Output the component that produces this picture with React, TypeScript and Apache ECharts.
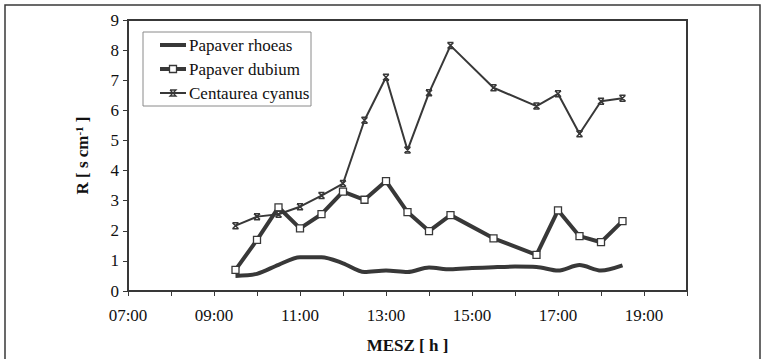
import React, { useEffect, useRef } from "react";
import * as echarts from "echarts";

const rhoeasHours = [9.5, 10, 10.5, 11, 11.5, 12, 12.5, 13, 13.5, 14, 14.5, 15, 15.5, 16, 16.5, 17, 17.5, 18, 18.5];
const rhoeasValues = [0.5, 0.57, 0.87, 1.12, 1.12, 0.92, 0.63, 0.68, 0.63, 0.78, 0.72, 0.76, 0.79, 0.81, 0.8, 0.68, 0.86, 0.68, 0.85];
const otherHours = [9.5, 10, 10.5, 11, 11.5, 12, 12.5, 13, 13.5, 14, 14.5, 15.5, 16.5, 17, 17.5, 18, 18.5];
const dubiumValues = [0.7, 1.7, 2.78, 2.08, 2.55, 3.3, 3.03, 3.65, 2.62, 1.99, 2.52, 1.75, 1.2, 2.68, 1.82, 1.62, 2.32];
const cyanusValues = [2.17, 2.47, 2.55, 2.8, 3.17, 3.57, 5.67, 7.1, 4.68, 6.58, 8.15, 6.75, 6.14, 6.55, 5.22, 6.3, 6.4];
const seriesNames = ["Papaver rhoeas", "Papaver dubium", "Centaurea cyanus"];

const FONT = "'Times New Roman', 'Liberation Serif', 'DejaVu Serif', serif";
const INK = "#383838";
const TXT = "#111";

const zip = (xs: number[], ys: number[]) => xs.map((x, i) => [x, ys[i]]);

function legendGraphic() {
  const x0 = 143, y0 = 32, w = 168, h = 74;
  const rows = [45, 69, 93];
  const items: any[] = [
    { type: "rect", shape: { x: x0, y: y0, width: w, height: h }, style: { fill: "#fff", stroke: "#8a8a8a", lineWidth: 1 }, silent: true },
    { type: "line", shape: { x1: 160, y1: rows[0], x2: 186, y2: rows[0] }, style: { stroke: INK, lineWidth: 4 }, silent: true },
    { type: "line", shape: { x1: 160, y1: rows[1], x2: 186, y2: rows[1] }, style: { stroke: INK, lineWidth: 4 }, silent: true },
    { type: "rect", shape: { x: 169.5, y: rows[1] - 3.5, width: 7, height: 7 }, style: { fill: "#fff", stroke: INK, lineWidth: 1.3 }, silent: true },
    { type: "line", shape: { x1: 160, y1: rows[2], x2: 186, y2: rows[2] }, style: { stroke: INK, lineWidth: 2 }, silent: true },
    {
      type: "polyline",
      shape: { points: [[170, rows[2] - 3], [176, rows[2] - 3], [170, rows[2] + 3], [176, rows[2] + 3], [170, rows[2] - 3]] },
      style: { fill: "none", stroke: INK, lineWidth: 1.3 },
      silent: true,
    },
  ];
  seriesNames.forEach((n, i) => {
    items.push({
      type: "text",
      x: 189,
      y: rows[i],
      style: { text: n, font: "17px " + FONT, fontFamily: FONT, fontSize: 17, fill: TXT, verticalAlign: "middle", align: "left" },
      silent: true,
    });
  });
  return items;
}

export default function App() {
  const ref = useRef<HTMLDivElement>(null);
  useEffect(() => {
    if (!ref.current) return;
    const chart = echarts.init(ref.current, null, { renderer: "svg" });
    chart.setOption({
      animation: false,
      backgroundColor: "#fff",
      textStyle: { fontFamily: FONT },
      graphic: [
        {
          type: "rect",
          shape: { x: 5, y: 5, width: 755, height: 360 },
          style: { fill: "none", stroke: INK, lineWidth: 1.5 },
          silent: true,
        },
        ...legendGraphic(),
      ],
      grid: {
        left: 128,
        top: 20,
        right: 80,
        bottom: 67,
        show: true,
        borderColor: INK,
        borderWidth: 2,
        backgroundColor: "transparent",
      },
      legend: { show: false, data: seriesNames },
      xAxis: {
        type: "value",
        min: 7,
        max: 20,
        interval: 1,
        name: "MESZ [ h ]",
        nameLocation: "middle",
        nameGap: 46,
        nameTextStyle: { fontFamily: FONT, fontSize: 17, fontWeight: "bold", color: TXT },
        axisLine: { show: true, lineStyle: { color: INK, width: 2 } },
        axisTick: { show: true, length: 5, lineStyle: { color: INK, width: 1 } },
        splitLine: { show: false },
        axisLabel: {
          margin: 16,
          fontFamily: FONT,
          fontSize: 17,
          color: TXT,
          formatter: (v: number) => (v % 2 === 1 ? (v < 10 ? "0" : "") + v + ":00" : ""),
        },
      },
      yAxis: {
        type: "value",
        min: 0,
        max: 9,
        interval: 1,
        name: "{b|R [ s cm}{s|-1}{b| ]}",
        nameLocation: "middle",
        nameGap: 36,
        nameRotate: 90,
        nameTextStyle: {
          fontFamily: FONT,
          rich: {
            b: { fontFamily: FONT, fontSize: 17, fontWeight: "bold", color: TXT },
            s: { fontFamily: FONT, fontSize: 11, fontWeight: "bold", color: TXT, verticalAlign: "top", padding: [0, 0, 8, 0] },
          },
        },
        axisLine: { show: true, lineStyle: { color: INK, width: 2 } },
        axisTick: { show: true, length: 5, lineStyle: { color: INK, width: 1 } },
        splitLine: { show: false },
        axisLabel: { margin: 9, fontFamily: FONT, fontSize: 17, color: TXT },
      },
      series: [
        {
          name: seriesNames[0],
          type: "line",
          data: zip(rhoeasHours, rhoeasValues),
          smooth: 0.3,
          showSymbol: false,
          symbol: "none",
          lineStyle: { color: INK, width: 4 },
          itemStyle: { color: INK },
        },
        {
          name: seriesNames[1],
          type: "line",
          data: zip(otherHours, dubiumValues),
          symbol: "rect",
          symbolSize: 7,
          lineStyle: { color: INK, width: 4 },
          itemStyle: { color: "#fff", borderColor: INK, borderWidth: 1.3 },
        },
        {
          name: seriesNames[2],
          type: "line",
          data: zip(otherHours, cyanusValues),
          symbol: "path://M0 0L10 10M10 0L0 10M0 0H10M0 10H10",
          symbolSize: 6,
          lineStyle: { color: INK, width: 2 },
          itemStyle: { color: "none", borderColor: INK, borderWidth: 1.5 },
        },
      ],
    });
    return () => chart.dispose();
  }, []);
  return (
    <div
      ref={ref}
      style={{ position: "fixed", left: 0, top: 0, width: 767, height: 359, background: "#fff" }}
    />
  );
}
